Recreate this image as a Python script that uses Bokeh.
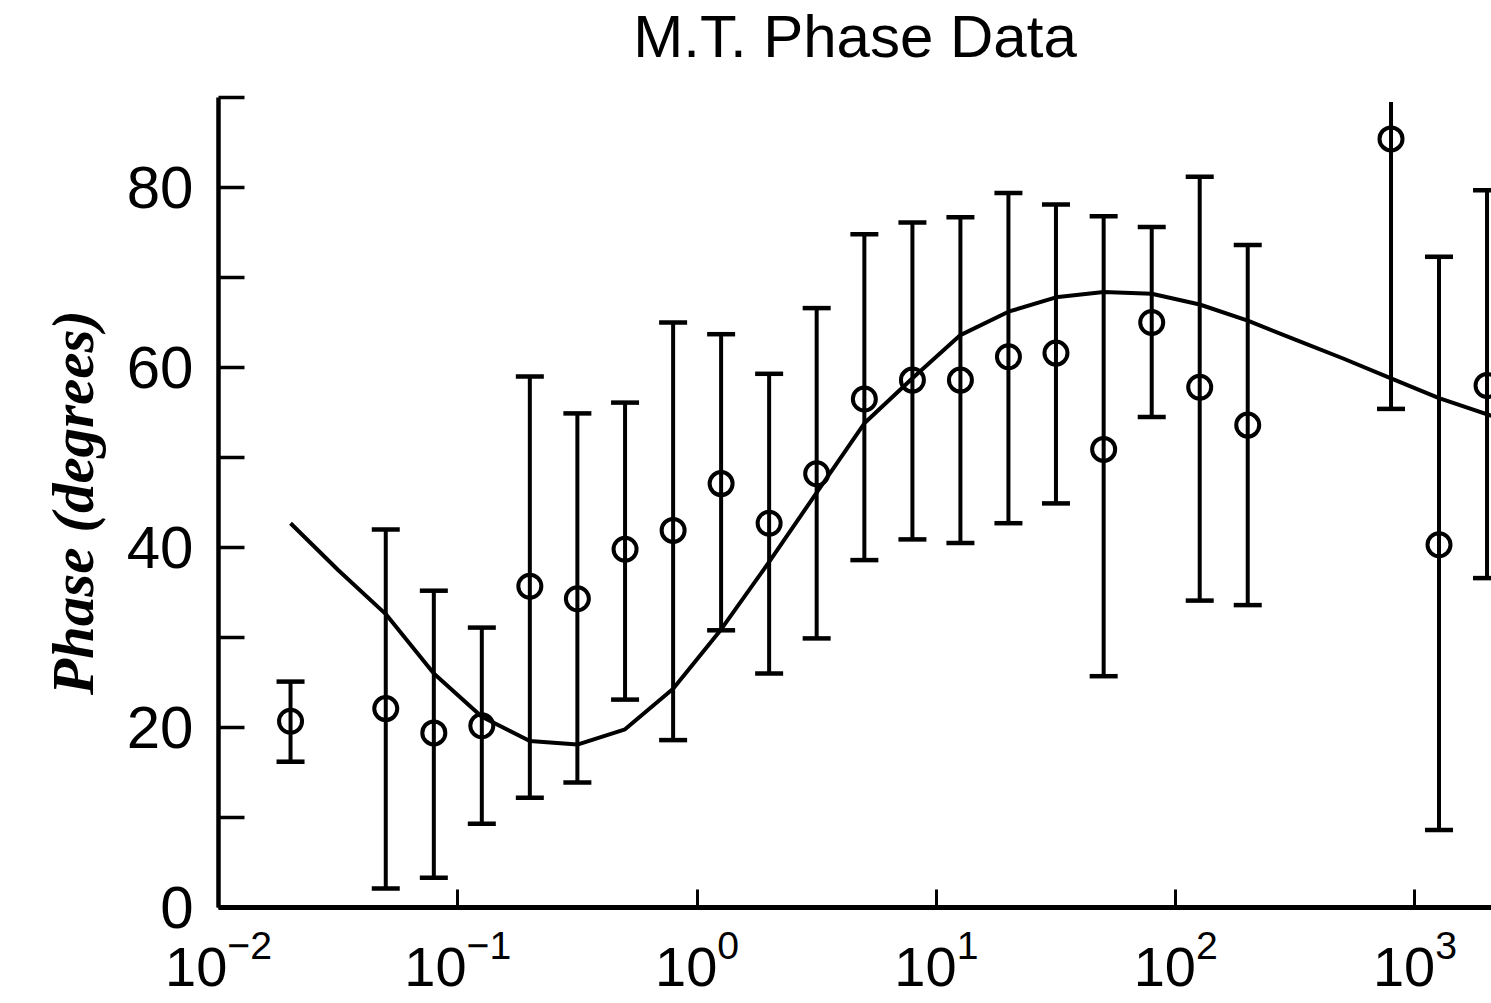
from bokeh.plotting import figure
from bokeh.models import Range1d, FixedTicker, ColumnDataSource, Title
from bokeh.embed import file_html
from bokeh.resources import INLINE

# ---- data ----
period = [0.02, 0.05, 0.0794, 0.126, 0.2, 0.316, 0.5, 0.794, 1.26, 2.0, 3.16,
          5.0, 7.94, 12.6, 20.0, 31.6, 50.0, 79.4, 126.0, 200.0, 794.0, 1260.0, 2000.0]
phase = [20.7, 22.1, 19.4, 20.2, 35.7, 34.3, 39.8, 41.9, 47.1, 42.7, 48.2,
         56.5, 58.6, 58.6, 61.2, 61.6, 50.9, 65.0, 57.8, 53.6, 85.4, 40.3, 58.0]
phase_hi = [25.1, 42.0, 35.2, 31.1, 59.0, 54.9, 56.1, 65.0, 63.7, 59.3, 66.6,
            74.8, 76.1, 76.7, 79.4, 78.1, 76.8, 75.6, 81.2, 73.6, 89.5, 72.3, 79.7]
phase_lo = [16.2, 2.1, 3.3, 9.3, 12.2, 13.9, 23.1, 18.6, 30.8, 26.0, 29.9,
            38.6, 40.9, 40.5, 42.7, 44.9, 25.7, 54.5, 34.1, 33.6, 55.4, 8.6, 36.6]

model_period = [0.02, 0.0316, 0.05, 0.0794, 0.126, 0.2, 0.316, 0.5, 0.794, 1.26,
                2.0, 3.16, 5.0, 7.94, 12.6, 20.0, 31.6, 50.0, 79.4, 126.0, 200.0,
                316.0, 501.0, 794.0, 1260.0, 2100.0]
model_phase = [42.7, 37.5, 32.6, 26.0, 21.2, 18.5, 18.1, 19.8, 24.3, 30.9,
               38.4, 46.1, 53.8, 58.8, 63.6, 66.2, 67.8, 68.4, 68.2, 67.0, 65.2,
               63.1, 61.0, 58.8, 56.6, 54.6]

x_decades = [0.01, 0.1, 1, 10, 100, 1000]
y_major = [0, 20, 40, 60, 80]
y_minor = [10, 30, 50, 70, 90]

x_lim = (0.01, 2088)
y_lim = (0, 90)

title_text = "M.T. Phase Data"
y_label = "Phase (degrees)"

# ---- figure ----
p = figure(width=1491, height=1003, x_axis_type="log",
           x_range=Range1d(*x_lim), y_range=Range1d(*y_lim),
           output_backend="svg", toolbar_location=None,
           min_border_left=218, min_border_right=0,
           min_border_top=97, min_border_bottom=96)

p.background_fill_color = "white"
p.border_fill_color = "white"
p.outline_line_color = None
p.xgrid.visible = False
p.ygrid.visible = False

# small blank spacer between the plot area and the title
p.add_layout(Title(text=" ", text_font_size="1px", standoff=23), "above")

p.title.text = title_text
p.title.align = "center"
p.title.vertical_align = "top"
p.title.text_font = "Liberation Sans"
p.title.text_font_size = "60px"
p.title.text_font_style = "normal"
p.title.text_color = "black"
p.title.standoff = 0

# x axis
xa = p.xaxis[0]
xa.ticker = FixedTicker(ticks=x_decades, minor_ticks=[])
xa.axis_line_width = 5
xa.axis_line_color = "black"
xa.major_tick_in = 18
xa.major_tick_out = 0
xa.major_tick_line_width = 3
xa.minor_tick_line_color = None
xa.major_label_text_font = "Liberation Sans"
xa.major_label_text_font_size = "56px"
xa.major_label_text_color = "black"
xa.major_label_standoff = 22

# y axis
ya = p.yaxis[0]
ya.ticker = FixedTicker(ticks=y_major, minor_ticks=y_minor)
ya.axis_line_width = 4.5
ya.axis_line_color = "black"
ya.major_tick_in = 26
ya.major_tick_out = 0
ya.major_tick_line_width = 3.5
ya.minor_tick_in = 26
ya.minor_tick_out = 0
ya.minor_tick_line_width = 3.5
ya.minor_tick_line_color = "black"
ya.major_label_text_font = "Liberation Sans"
ya.major_label_text_font_size = "60px"
ya.major_label_text_color = "black"
ya.major_label_standoff = 25
ya.axis_label = y_label
ya.axis_label_text_font = "Liberation Serif"
ya.axis_label_text_font_style = "bold italic"
ya.axis_label_text_font_size = "59px"
ya.axis_label_text_color = "black"
ya.axis_label_standoff = 18

# ---- glyphs ----
src = ColumnDataSource(dict(x=period, y=phase, hi=phase_hi, lo=phase_lo))

p.line(model_period, model_phase, line_color="black", line_width=4)

p.segment(x0="x", y0="lo", x1="x", y1="hi", source=src,
          line_color="black", line_width=4)

cap_x = [px for px, h in zip(period, phase_hi) if h < 89] + period
cap_y = [h for h in phase_hi if h < 89] + phase_lo
p.scatter(cap_x, cap_y, marker="dash", size=28, line_width=4.5, line_color="black")

p.scatter("x", "y", source=src, marker="circle", size=23,
          fill_color=None, line_color="black", line_width=4)

open("out.html", "w").write(file_html(p, INLINE))
